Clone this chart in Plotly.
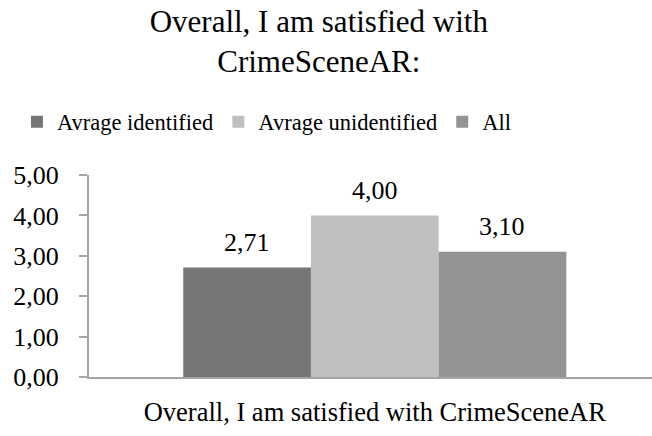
import plotly.graph_objects as go

# Survey result: mean agreement with the statement, by participant group
category = "Overall, I am satisfied with CrimeSceneAR"
series_names = ["Avrage identified", "Avrage unidentified", "All"]
series_values = [2.71, 4.00, 3.10]
series_colors = ["#767676", "#c0c0c0", "#939393"]
y_tick_values = [0, 1, 2, 3, 4, 5]
y_tick_labels = ["0,00", "1,00", "2,00", "3,00", "4,00", "5,00"]

FONT = "Liberation Serif"
BAR_W = 0.2234  # width of one bar in category units

fig = go.Figure()
n = len(series_values)
for i, (name, val, col) in enumerate(zip(series_names, series_values, series_colors)):
    xpos = (i - (n - 1) / 2) * BAR_W
    fig.add_trace(go.Bar(
        x=[xpos], y=[val], name=name, width=BAR_W,
        marker=dict(color=col, line=dict(width=0)),
        hoverinfo="skip",
    ))
    fig.add_annotation(
        x=xpos, y=val, text=f"{val:.2f}".replace(".", ","),
        showarrow=False, yanchor="middle", yshift=25,
        font=dict(family=FONT, size=26, color="#000000"),
    )

fig.update_layout(
    width=652, height=436,
    margin=dict(l=89, r=0, t=175, b=59),
    paper_bgcolor="white", plot_bgcolor="white",
    barmode="overlay",
    font=dict(family=FONT, color="#000000"),
    title=dict(
        text="Overall, I am satisfied with<br>CrimeSceneAR:",
        x=0.489, xanchor="center", y=0.927, yref="container", yanchor="middle",
        font=dict(family=FONT, size=31, color="#000000"),
    ),
    legend=dict(
        orientation="h", xref="container", x=0.026, xanchor="left",
        yref="container", y=0.72, yanchor="middle",
        font=dict(family=FONT, size=22.5, color="#000000"),
        itemwidth=30, tracegroupgap=0, itemclick=False,
    ),
    xaxis=dict(
        range=[-0.5, 0.485], tickmode="array", tickvals=[0], ticktext=[category],
        showgrid=False, zeroline=False, showline=True, linecolor="#a5a5a5", linewidth=2,
        ticks="", ticklabelstandoff=10,
        tickfont=dict(family=FONT, size=26.5, color="#000000"),
        fixedrange=True,
    ),
    yaxis=dict(
        range=[0, 5], tickmode="array", tickvals=y_tick_values, ticktext=y_tick_labels,
        showgrid=False, zeroline=False, showline=True, linecolor="#a5a5a5", linewidth=2,
        ticks="outside", ticklen=8, tickwidth=2, tickcolor="#a5a5a5",
        ticklabelstandoff=15,
        tickfont=dict(family=FONT, size=26, color="#000000"),
        fixedrange=True,
    ),
)

fig.write_html("out.html")
